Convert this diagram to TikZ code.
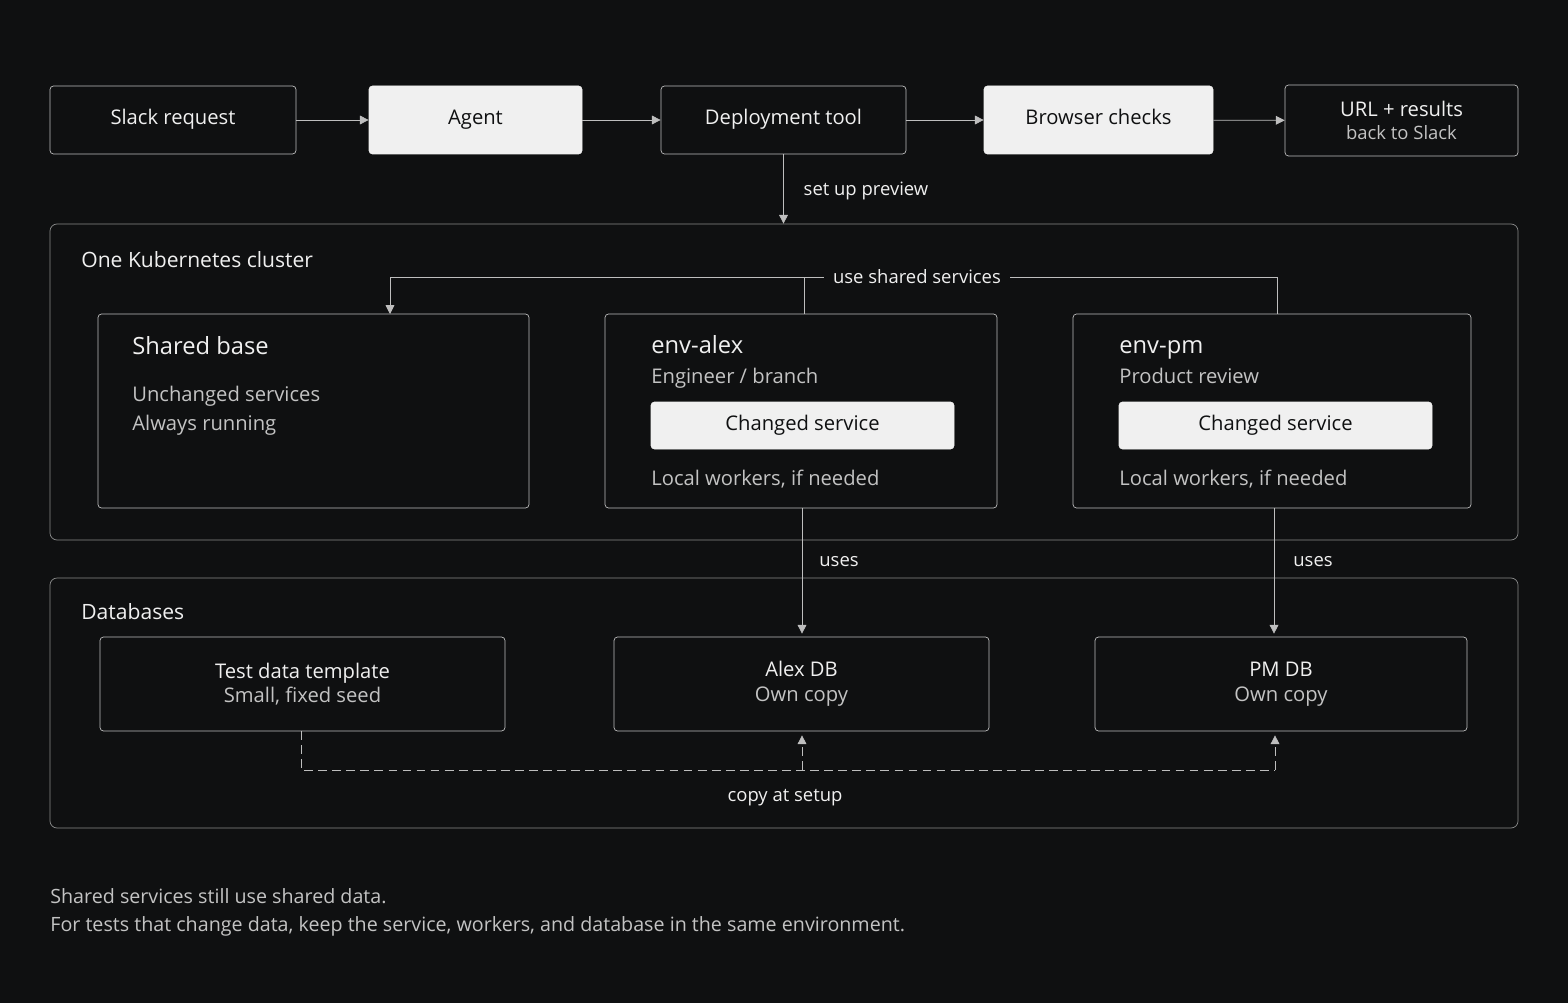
\documentclass[tikz,border=0pt]{standalone}
\usepackage{fontspec}
\setmainfont{Open Sans}
\usetikzlibrary{positioning,calc,arrows.meta}
\definecolor{bgcolor}{RGB}{15,16,17}
\definecolor{linecolor}{RGB}{190,190,190}
\definecolor{textcolor}{RGB}{240,240,240}
\definecolor{subcolor}{RGB}{195,195,195}
\definecolor{fillcolor}{RGB}{240,240,240}
\tikzset{
  %% box : an outlined step
  box/.style={
    rectangle,
    rounded corners=2pt,
    draw=linecolor,
    text=textcolor,
    font=\fontsize{11.5}{14}\selectfont,
    align=center,
    inner sep=0pt
  },
  %% solid : a filled step
  solid/.style={
    box,
    fill=fillcolor,
    draw=fillcolor,
    text=bgcolor
  },
  %% group : frame around a group of boxes
  group/.style={
    rectangle,
    rounded corners=4pt,
    draw=linecolor!70!bgcolor,
    inner sep=0pt
  },
  %% label : plain text
  label/.style={text=textcolor, font=\fontsize{10.5}{12}\selectfont, inner sep=1pt},
  sub/.style={text=subcolor, font=\fontsize{11.5}{13}\selectfont, anchor=base west, inner sep=0pt},
  title/.style={text=textcolor, font=\fontsize{13.5}{15}\selectfont, anchor=base west, inner sep=0pt},
  connection_arrow/.style={-{Triangle[length=5pt,width=5pt]}, draw=linecolor, thin},
  dashed_arrow/.style={connection_arrow, dash pattern=on 5pt off 3pt}
}
\newcommand{\boxat}[6]{% name, style, x1, y1, x2, y2
  \node (#1) [#2, minimum width={(#5-#3)*0.02cm}, minimum height={(#6-#4)*0.02cm}]
  at ({(#3+#5)/2}, {(#4+#6)/2})}

\begin{document}
\begin{tikzpicture}
  [x=0.02cm,
  y=-0.02cm]
  \fill [bgcolor] (0, 0) rectangle (1568, 1003);

  %% Top row
  \boxat{slack}{box}{50}{86}{296}{154} {\strut Slack request};
  \boxat{agent}{solid}{369}{86}{582}{154} {\strut Agent};
  \boxat{deploy}{box}{661}{86}{906}{154} {\strut Deployment tool};
  \boxat{browser}{solid}{984}{86}{1213}{154} {\strut Browser checks};
  \boxat{url}{box}{1285}{85}{1518}{156} {URL + results\\[-1pt]{\fontsize{10.5}{12}\selectfont\color{subcolor}back to Slack}};

  \draw [connection_arrow] (slack) -- (agent);
  \draw [connection_arrow] (agent) -- (deploy);
  \draw [connection_arrow] (deploy) -- (browser);
  \draw [connection_arrow] (browser) -- (url);

  %% Cluster
  \boxat{cluster}{group}{50}{224}{1518}{540} {};
  \node (clusterlabel) [title, font=\fontsize{12}{14}\selectfont] at (81, 268) {One Kubernetes cluster};
  \draw [connection_arrow] (deploy) -- (cluster.north -| deploy);
  \node (preview) [label] at (866, 191) {set up preview};

  \boxat{shared}{box}{98}{314}{529}{508} {};
  \node (sharedtitle) [title] at (132, 355) {Shared base};
  \node (sharedtext1) [sub] at (132, 401) {Unchanged services};
  \node (sharedtext2) [sub] at (132, 430) {Always running};

  \boxat{alex}{box}{605}{314}{997}{508} {};
  \node (alextitle) [title] at (651, 354) {env-alex};
  \node (alexsub) [sub] at (651, 383) {Engineer / branch};
  \boxat{alexchanged}{solid}{651}{402}{954}{449} {\strut Changed service};
  \node (alexworkers) [sub] at (651, 485) {Local workers, if needed};

  \boxat{pm}{box}{1073}{314}{1471}{508} {};
  \node (pmtitle) [title] at (1119, 354) {env-pm};
  \node (pmsub) [sub] at (1119, 383) {Product review};
  \boxat{pmchanged}{solid}{1119}{402}{1432}{449} {\strut Changed service};
  \node (pmworkers) [sub] at (1119, 485) {Local workers, if needed};

  \node (useshared) [label, inner sep=5pt] at (917, 277) {use shared services};
  \coordinate (alextop) at (804, 314);
  \coordinate (pmtop) at (1277, 314);
  \coordinate (sharedtop) at (390, 314);
  \draw [connection_arrow] (alextop) -- (alextop |- useshared) -- (sharedtop |- useshared) -- (sharedtop);
  \draw [draw=linecolor] (alextop |- useshared) -- (useshared.west);
  \draw [draw=linecolor] (useshared.east) -- (pmtop |- useshared) -- (pmtop);

  %% Databases
  \boxat{databases}{group}{50}{578}{1518}{828} {};
  \node (dblabel) [title, font=\fontsize{12}{14}\selectfont] at (81, 619) {Databases};

  \boxat{template}{box}{100}{637}{505}{731} {Test data template\\{\color{subcolor}Small, fixed seed}};
  \boxat{alexdb}{box}{614}{637}{989}{731} {Alex DB\\{\color{subcolor}Own copy}};
  \boxat{pmdb}{box}{1095}{637}{1467}{731} {PM DB\\{\color{subcolor}Own copy}};

  \coordinate (alexout) at (802, 508);
  \coordinate (pmout) at (1274, 508);
  \draw [connection_arrow] (alexout) -- ($(alexdb.north -| alexout) + (0, -3)$);
  \node (usesalex) [label] at (839, 562) {uses};
  \draw [connection_arrow] (pmout) -- ($(pmdb.north -| pmout) + (0, -3)$);
  \node (usespm) [label] at (1313, 562) {uses};

  \coordinate (templateout) at (301, 731);
  \coordinate (copyleft) at (301, 770);
  \coordinate (copyalex) at (802, 770);
  \coordinate (copypm) at (1275, 770);
  \draw [draw=linecolor, dash pattern=on 5pt off 3pt]
    (templateout) -- (copyleft) -- (copypm);
  \draw [dashed_arrow] (copyalex) -- ($(alexdb.south -| copyalex) + (0, 4)$);
  \draw [dashed_arrow] (copypm) -- ($(pmdb.south -| copypm) + (0, 4)$);
  \node (copylabel) [label] at (785, 798) {copy at setup};

  %% Notes
  \node (note1) [sub, font=\fontsize{11.2}{12}\selectfont] at (50, 903) {Shared services still use shared data.};
  \node (note2) [sub, font=\fontsize{11.2}{12}\selectfont] at (50, 931) {For tests that change data, keep the service, workers, and database in the same environment.};
\end{tikzpicture}
\end{document}
